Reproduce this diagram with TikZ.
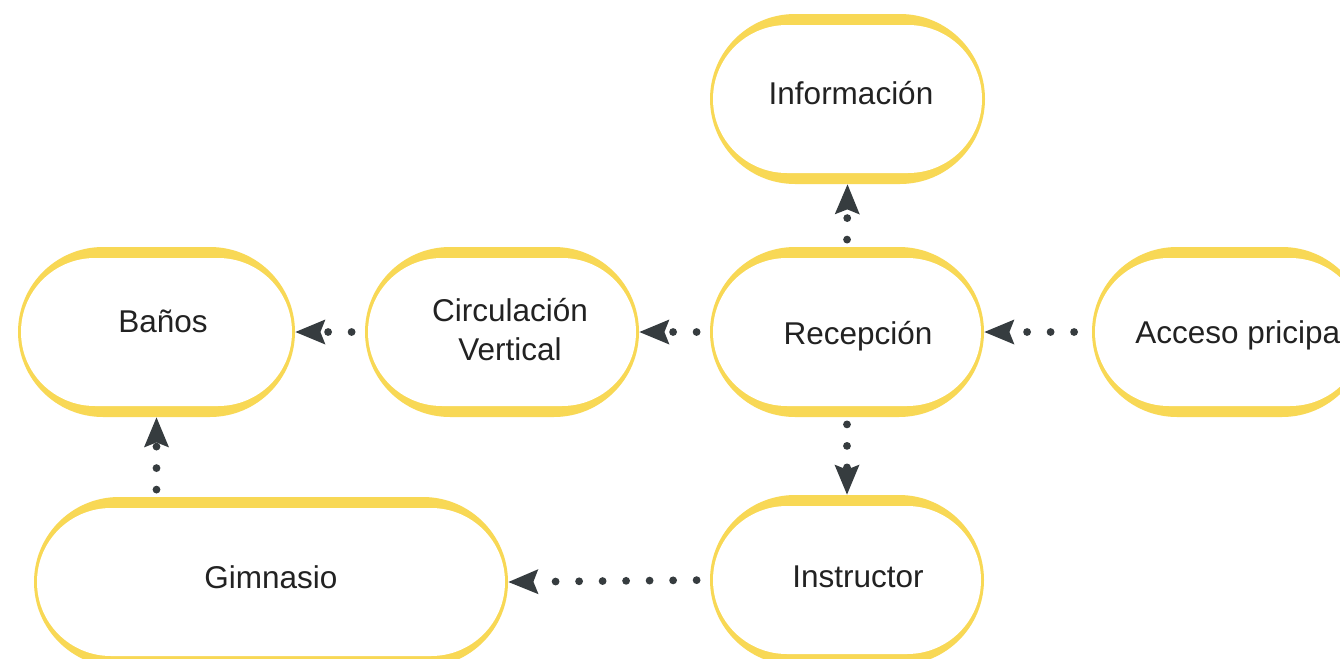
\documentclass[tikz,border=0pt]{standalone}
\usepackage{fontspec}
\setmainfont{Liberation Sans}
\usetikzlibrary{shapes.misc,arrows.meta}
\definecolor{ylw}{RGB}{248,216,85}
\definecolor{dk}{RGB}{54,60,63}
\definecolor{txt}{RGB}{34,34,34}
\tikzset{
  outerst/.style={rounded rectangle, fill=ylw, draw=none, minimum height=85pt, inner sep=0pt},
  innerst/.style={rounded rectangle, fill=white, draw=none, minimum height=74pt, inner sep=0pt},
  lbl/.style={inner sep=0pt, text=txt, font=\fontsize{15.75pt}{19.5pt}\selectfont, align=center, anchor=base},
  conn/.style={draw=dk, line width=3.9pt, line cap=round,
    -{Stealth[length=15pt,width=12.5pt,inset=2.5pt,line width=0pt]}},
  hconn/.style={conn, dash pattern=on 0pt off 11.75pt, dash phase=5.25pt},
  vconn/.style={conn, dash pattern=on 0pt off 10.75pt, dash phase=7.25pt}
}
\newcommand\stadium[7]{%
  \node[outerst, minimum width=#4] (#1) at (#2,#3) {};
  \node[innerst, minimum width=#4-3pt] (#1-in) at (#2,#3) {};
  \node[lbl] (#1-t) at (#5,#6) {#7};}
\begin{document}
\begin{tikzpicture}[x=0.5pt,y=-0.5pt]
\useasboundingbox (0,0) rectangle (1340,659);
\clip (0,0) rectangle (1340,659);
\fill[white] (0,0) rectangle (1340,659);
\stadium{inf}{847.5}{99}{137.5pt}{851}{104}{Información}
\stadium{rec}{847}{332}{137pt}{858}{344}{Recepción}
\stadium{cir}{502}{332}{137pt}{510}{360}{Circulación\\Vertical}
\stadium{ban}{156.5}{332}{138.5pt}{163}{332}{Baños}
\stadium{ins}{847}{580}{137pt}{858}{587}{Instructor}
\stadium{gim}{271}{582}{237pt}{271}{588}{Gimnasio}
\node[outerst, minimum width=137.5pt] (acc) at (1229.5,332) {};
\node[innerst, minimum width=134.5pt] (acc-in) at (1229.5,332) {};
\node[lbl, anchor=base west] (acc-t) at (1135,343) {Acceso pricipal};
\draw[vconn] (rec.north) -- (inf.south);
\draw[hconn] (rec.west) -- (cir.east);
\draw[hconn] (cir.west) -- (ban.east);
\draw[hconn, dash phase=3pt] (acc.west) -- (rec.east);
\draw[vconn] (rec.south) -- (ins.north);
\draw[hconn] (ins.west) -- (gim.east);
\draw[vconn] (ban.south |- gim.north) -- (ban.south);
\end{tikzpicture}
\end{document}
